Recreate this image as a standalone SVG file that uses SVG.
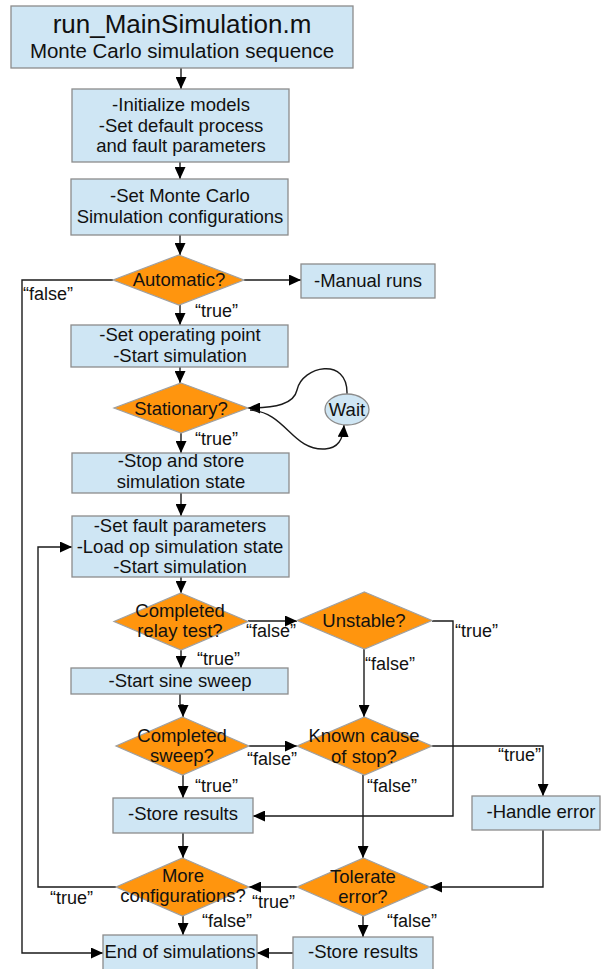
<svg xmlns="http://www.w3.org/2000/svg" width="603" height="969" viewBox="0 0 603 969">
  <style>
    .box { fill: #cfe6f4; stroke: #8c8c8c; stroke-width: 1.3; }
    .dec { fill: #ff950e; stroke: #a0a0a0; stroke-width: 1.2; }
    .txt { font-family: "Liberation Sans", Arial, sans-serif; font-size: 18.5px; fill: #111; text-anchor: middle; }
    .lbl { font-family: "Liberation Sans", Arial, sans-serif; font-size: 18px; fill: #111; }
    .title { font-size: 26px; }
    .sub { font-size: 20.5px; }
    .wire { fill: none; stroke: #1a1a1a; stroke-width: 1.4; marker-end: url(#arrow); }
  </style>
  <defs>
    <marker id="arrow" markerUnits="userSpaceOnUse" markerWidth="12" markerHeight="11" refX="12" refY="5.5" orient="auto">
      <path d="M0,0 L12,5.5 L0,11 z" fill="#000"/>
    </marker>
  </defs>
  <rect width="603" height="969" fill="#fff"/>

  <!-- connectors -->
  <g id="connectors">
    <path class="wire" d="M181,68 V89"/>
    <path class="wire" d="M180,162 V179"/>
    <path class="wire" d="M180,235 V255"/>
    <path class="wire" d="M244,280 H301"/>
    <path class="wire" d="M113,280 H22 V953 H103"/>
    <path class="wire" d="M180,305 V325"/>
    <path class="wire" d="M180,367 V383"/>
    <path class="wire" d="M347,394 C348,356 302,366 297,390 C294,404 276,408 248,408"/>
    <path class="wire" d="M250,410 C286,412 292,451 325,449 C338,448 343,440 344,425"/>
    <path class="wire" d="M181,433 V453"/>
    <path class="wire" d="M181,493 V516"/>
    <path class="wire" d="M181,577 V593"/>
    <path class="wire" d="M248,621 H297"/>
    <path class="wire" d="M181,650 V668"/>
    <path class="wire" d="M432,621 H453 V816 H253"/>
    <path class="wire" d="M364,649 V717"/>
    <path class="wire" d="M180,694 V705 H183 V717"/>
    <path class="wire" d="M249,746 H297"/>
    <path class="wire" d="M183,775 V798"/>
    <path class="wire" d="M432,746 H543 V796"/>
    <path class="wire" d="M363,775 V858"/>
    <path class="wire" d="M183,833 V858"/>
    <path class="wire" d="M116,887 H38 V547 H72"/>
    <path class="wire" d="M543,830 V887 H430"/>
    <path class="wire" d="M297,887 H249"/>
    <path class="wire" d="M183,916 V935"/>
    <path class="wire" d="M363,916 V937"/>
    <path class="wire" d="M293,953 H257"/>
  </g>

  <!-- branch labels -->
  <g id="labels">
    <text class="lbl" x="23" y="300">“false”</text>
    <text class="lbl" x="195" y="317">“true”</text>
    <text class="lbl" x="195" y="445">“true”</text>
    <text class="lbl" x="246" y="637">“false”</text>
    <text class="lbl" x="197" y="665">“true”</text>
    <text class="lbl" x="455" y="637">“true”</text>
    <text class="lbl" x="365" y="670">“false”</text>
    <text class="lbl" x="247" y="765">“false”</text>
    <text class="lbl" x="195" y="792">“true”</text>
    <text class="lbl" x="498" y="761">“true”</text>
    <text class="lbl" x="367" y="792">“false”</text>
    <text class="lbl" x="50" y="904">“true”</text>
    <text class="lbl" x="252" y="908">“true”</text>
    <text class="lbl" x="202" y="927">“false”</text>
    <text class="lbl" x="387" y="927">“false”</text>
  </g>

  <g id="title">
    <rect class="box" x="11" y="6" width="342" height="62"/>
    <text class="txt title" x="182" y="33">run_MainSimulation.m</text>
    <text class="txt sub" x="182" y="58">Monte Carlo simulation sequence</text>
  </g>

  <g id="init">
    <rect class="box" x="72" y="89" width="217" height="73"/>
    <text class="txt" x="181" y="111">-Initialize models</text>
    <text class="txt" x="181" y="132">-Set default process</text>
    <text class="txt" x="181" y="152">and fault parameters</text>
  </g>

  <g id="mc-config">
    <rect class="box" x="71" y="179" width="217" height="56"/>
    <text class="txt" x="180" y="202">-Set Monte Carlo</text>
    <text class="txt" x="180" y="223">Simulation configurations</text>
  </g>

  <g id="automatic">
    <polygon class="dec" points="179,255 244,280 179,305 113,280"/>
    <text class="txt" x="179" y="286">Automatic?</text>
  </g>

  <g id="manual">
    <rect class="box" x="301" y="264" width="134" height="34"/>
    <text class="txt" x="368" y="287">-Manual runs</text>
  </g>

  <g id="set-op">
    <rect class="box" x="71" y="325" width="217" height="42"/>
    <text class="txt" x="180" y="341">-Set operating point</text>
    <text class="txt" x="180" y="362">-Start simulation</text>
  </g>

  <g id="stationary">
    <polygon class="dec" points="181,383 248,408 181,433 114,408"/>
    <text class="txt" x="181" y="415">Stationary?</text>
  </g>

  <g id="wait">
    <ellipse class="box" cx="347" cy="409.5" rx="22" ry="15.5"/>
    <text class="txt" x="347" y="416">Wait</text>
  </g>

  <g id="stop-store">
    <rect class="box" x="72" y="453" width="217" height="40"/>
    <text class="txt" x="181" y="467">-Stop and store</text>
    <text class="txt" x="181" y="488">simulation state</text>
  </g>

  <g id="set-fault">
    <rect class="box" x="72" y="516" width="217" height="61"/>
    <text class="txt" x="180" y="532">-Set fault parameters</text>
    <text class="txt" x="180" y="553">-Load op simulation state</text>
    <text class="txt" x="180" y="573">-Start simulation</text>
  </g>

  <g id="relay-test">
    <polygon class="dec" points="181,593 248,621.5 181,650 114,621.5"/>
    <text class="txt" x="180" y="617">Completed</text>
    <text class="txt" x="180" y="637">relay test?</text>
  </g>

  <g id="unstable">
    <polygon class="dec" points="364.5,592 432,620.5 364.5,649 297,620.5"/>
    <text class="txt" x="364" y="627">Unstable?</text>
  </g>

  <g id="sine-sweep">
    <rect class="box" x="71" y="668" width="217" height="26"/>
    <text class="txt" x="180" y="687">-Start sine sweep</text>
  </g>

  <g id="sweep-done">
    <polygon class="dec" points="182.5,717 249,746 182.5,775 116,746"/>
    <text class="txt" x="182" y="742">Completed</text>
    <text class="txt" x="182" y="762">sweep?</text>
  </g>

  <g id="known-cause">
    <polygon class="dec" points="364.5,717 432,746 364.5,775 297,746"/>
    <text class="txt" x="364" y="742">Known cause</text>
    <text class="txt" x="364" y="763">of stop?</text>
  </g>

  <g id="store-results">
    <rect class="box" x="113" y="798" width="140" height="35"/>
    <text class="txt" x="183" y="820">-Store results</text>
  </g>

  <g id="handle-error">
    <rect class="box" x="472" y="796" width="128" height="34"/>
    <text class="txt" x="541" y="818">-Handle error</text>
  </g>

  <g id="more-configs">
    <polygon class="dec" points="182.5,858 249,887 182.5,916 116,887"/>
    <text class="txt" x="183" y="882">More</text>
    <text class="txt" x="183" y="902">configurations?</text>
  </g>

  <g id="tolerate">
    <polygon class="dec" points="363.5,858 430,887 363.5,916 297,887"/>
    <text class="txt" x="363" y="883">Tolerate</text>
    <text class="txt" x="363" y="903">error?</text>
  </g>

  <g id="end">
    <rect class="box" x="103" y="935" width="154" height="40"/>
    <text class="txt" x="180" y="958">End of simulations</text>
  </g>

  <g id="store-results-2">
    <rect class="box" x="293" y="937" width="140" height="40"/>
    <text class="txt" x="363" y="958">-Store results</text>
  </g>
</svg>
